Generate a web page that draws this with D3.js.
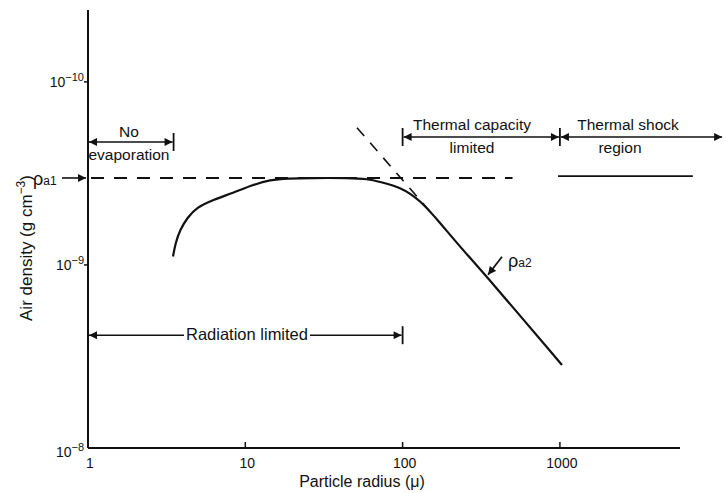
<!DOCTYPE html>
<html>
<head>
<meta charset="utf-8">
<script src="https://cdn.jsdelivr.net/npm/d3@7"></script>
<style>
  body { margin: 0; background: #fff; }
  svg text { font-family: "Liberation Sans", Arial, sans-serif; fill: #111; }
</style>
</head>
<body>
<div id="chart"></div>
<script>
const width = 726;
const height = 493;

// axis ticks
const radiusTicks = [1, 10, 100, 1000];
const densityTicks = [1e-10, 1e-9, 1e-8];

// rho_a2 curve (radius in micron, density in g cm^-3)
const curveRadius = [3.47, 3.6, 3.85, 4.3, 4.9, 6.23, 8.35, 11.2, 14.4, 18.5, 26.9, 45, 60.3, 71.8, 96.2, 129, 173, 232, 344, 1031];
const curveDensity = [9.0e-10, 7.6e-10, 6.4e-10, 5.5e-10, 4.85e-10, 4.41e-10, 4.04e-10, 3.65e-10, 3.43e-10, 3.37e-10, 3.35e-10, 3.35e-10, 3.39e-10, 3.52e-10, 3.75e-10, 4.41e-10, 5.89e-10, 7.97e-10, 1.16e-9, 3.52e-9];

// rho_a1 level
const rhoA1 = 3.35e-10;
const rhoA1Dashed = [1, 500];
const rhoA1Solid = [973, 7000];
const rhoA1SolidLevel = 3.27e-10;

// steep dashed asymptote
const asymRadius = [51.3, 152];
const asymDensity = [1.78e-10, 5.2e-10];

// regions (x extent in micron, y level in g cm^-3)
const regions = [
  { from: 1, to: 3.5, level: 2.13e-10, bar: true, lines: ["No", "evaporation"], up: 5, down: 18, cx: 129 },
  { from: 100, to: 1000, level: 2.0e-10, bar: true, barLeft: true, lines: ["Thermal capacity", "limited"], up: 7, down: 16, cx: 472 },
  { from: 1000, to: 10900, level: 2.0e-10, lines: ["Thermal shock", "region"], up: 7, down: 16, cx: 628, cx2: 620 }
];
const radiation = { from: 1, to: 100, level: 2.42e-9, label: "Radiation limited" };

const svg = d3.select('#chart').append('svg')
  .attr('width', width)
  .attr('height', height);

const defs = svg.append('defs');
defs.append('marker')
  .attr('id', 'arrow')
  .attr('viewBox', '0 0 10 10')
  .attr('refX', 10).attr('refY', 5)
  .attr('markerWidth', 9).attr('markerHeight', 8)
  .attr('markerUnits', 'userSpaceOnUse')
  .attr('orient', 'auto-start-reverse')
  .append('path')
  .attr('d', 'M0,0 L10,5 L0,10 Z')
  .attr('fill', '#111');

const x = d3.scaleLog().domain([1, 5800]).range([88, 680]);
const y = d3.scaleLog().domain([4.05e-11, 1e-8]).range([10, 448]);

// axes
svg.append('line')
  .attr('x1', x(1)).attr('x2', x(1))
  .attr('y1', y.range()[0]).attr('y2', y.range()[1])
  .attr('stroke', '#111').attr('stroke-width', 2);
svg.append('line')
  .attr('x1', x(1)).attr('x2', x.range()[1])
  .attr('y1', y(1e-8)).attr('y2', y(1e-8))
  .attr('stroke', '#111').attr('stroke-width', 2);

// x ticks
const xt = svg.append('g');
xt.selectAll('line')
  .data(radiusTicks.slice(1))
  .enter().append('line')
  .attr('x1', d => x(d)).attr('x2', d => x(d))
  .attr('y1', y(1e-8)).attr('y2', y(1e-8) - 6)
  .attr('stroke', '#111').attr('stroke-width', 1.5);
xt.selectAll('text')
  .data(radiusTicks)
  .enter().append('text')
  .attr('x', d => x(d) + 2)
  .attr('y', y(1e-8) + 20)
  .attr('text-anchor', 'middle')
  .attr('font-size', 14)
  .text(d => d);

// y ticks
const yt = svg.append('g');
yt.selectAll('line')
  .data(densityTicks.slice(0, 2))
  .enter().append('line')
  .attr('x1', x(1)).attr('x2', x(1) - 4)
  .attr('y1', d => y(d)).attr('y2', d => y(d))
  .attr('stroke', '#111').attr('stroke-width', 1.5);
const ytl = yt.selectAll('text')
  .data(densityTicks)
  .enter().append('text')
  .attr('x', x(1) - 4)
  .attr('y', (d, i) => y(d) + (i === 2 ? 9 : 5))
  .attr('text-anchor', 'end')
  .attr('font-size', 14);
ytl.append('tspan').text('10');
ytl.append('tspan')
  .attr('dy', -6)
  .attr('font-size', 11)
  .text(d => '\u2212' + Math.round(-Math.log10(d)));

// axis titles
svg.append('text')
  .attr('x', 362).attr('y', 487)
  .attr('text-anchor', 'middle')
  .attr('font-size', 16)
  .text('Particle radius (\u03bc)');

const yl = svg.append('text')
  .attr('transform', 'translate(32,248) rotate(-90)')
  .attr('text-anchor', 'middle')
  .attr('font-size', 17);
yl.append('tspan').text('Air density (g cm');
yl.append('tspan').attr('dy', -7).attr('font-size', 12).text('\u22123');
yl.append('tspan').attr('dy', 7).text(')');

// rho_a1 lines
svg.append('line')
  .attr('x1', x(rhoA1Dashed[0])).attr('x2', x(rhoA1Dashed[1]))
  .attr('y1', y(rhoA1)).attr('y2', y(rhoA1))
  .attr('stroke', '#111').attr('stroke-width', 2)
  .attr('stroke-dasharray', '13,10')
  .attr('stroke-dashoffset', -3);
svg.append('line')
  .attr('x1', x(rhoA1Solid[0])).attr('x2', x(rhoA1Solid[1]))
  .attr('y1', y(rhoA1SolidLevel)).attr('y2', y(rhoA1SolidLevel))
  .attr('stroke', '#111').attr('stroke-width', 1.8);

// steep asymptote
svg.append('line')
  .attr('x1', x(asymRadius[0])).attr('y1', y(asymDensity[0]))
  .attr('x2', x(asymRadius[1])).attr('y2', y(asymDensity[1]))
  .attr('stroke', '#111').attr('stroke-width', 1.6)
  .attr('stroke-dasharray', '11,9');

// main curve
const curvePts = curveRadius.map((r, i) => [r, curveDensity[i]]);
svg.append('path')
  .datum(curvePts)
  .attr('fill', 'none')
  .attr('stroke', '#111')
  .attr('stroke-width', 2.2)
  .attr('d', d3.line().x(d => x(d[0])).y(d => y(d[1])).curve(d3.curveBasis));

// rho_a1 label
const ra1 = svg.append('text').attr('x', 33).attr('y', y(rhoA1) + 7).attr('font-size', 18);
ra1.append('tspan').text('\u03c1');
ra1.append('tspan').attr('font-size', 12).text('a1');
svg.append('line')
  .attr('x1', 62).attr('x2', x(1) - 2)
  .attr('y1', y(rhoA1)).attr('y2', y(rhoA1))
  .attr('stroke', '#111').attr('stroke-width', 1.6)
  .attr('marker-end', 'url(#arrow)');

// rho_a2 label
const a2r = 344;
const a2d = 1.16e-9;
svg.append('line')
  .attr('x1', x(a2r) + 15).attr('y1', y(a2d) - 20)
  .attr('x2', x(a2r) + 1).attr('y2', y(a2d) - 2)
  .attr('stroke', '#111').attr('stroke-width', 1.8)
  .attr('marker-end', 'url(#arrow)');
const ra2 = svg.append('text').attr('x', x(a2r) + 21).attr('y', y(a2d) - 10).attr('font-size', 18);
ra2.append('tspan').text('\u03c1');
ra2.append('tspan').attr('font-size', 12).text('a2');

// region spans
regions.forEach(r => {
  const x1 = x(r.from), x2 = x(r.to), yy = y(r.level);
  svg.append('line')
    .attr('x1', x1 + 1).attr('x2', x2 - 1)
    .attr('y1', yy).attr('y2', yy)
    .attr('stroke', '#111').attr('stroke-width', 1.6)
    .attr('marker-start', 'url(#arrow)')
    .attr('marker-end', 'url(#arrow)');
  if (r.bar) {
    svg.append('line')
      .attr('x1', x2).attr('x2', x2)
      .attr('y1', yy - 9).attr('y2', yy + 9)
      .attr('stroke', '#111').attr('stroke-width', 1.8);
  }
  if (r.barLeft) {
    svg.append('line')
      .attr('x1', x1).attr('x2', x1)
      .attr('y1', yy - 9).attr('y2', yy + 9)
      .attr('stroke', '#111').attr('stroke-width', 1.8);
  }
  svg.append('text')
    .attr('x', r.cx).attr('y', yy - r.up)
    .attr('text-anchor', 'middle').attr('font-size', 15.5)
    .text(r.lines[0]);
  svg.append('text')
    .attr('x', r.cx2 || r.cx).attr('y', yy + r.down)
    .attr('text-anchor', 'middle').attr('font-size', 15.5)
    .text(r.lines[1]);
});

// radiation limited span
const ry = y(radiation.level);
svg.append('line')
  .attr('x1', x(radiation.from) + 1).attr('x2', x(radiation.to) - 1)
  .attr('y1', ry).attr('y2', ry)
  .attr('stroke', '#111').attr('stroke-width', 1.6)
  .attr('marker-start', 'url(#arrow)')
  .attr('marker-end', 'url(#arrow)');
svg.append('line')
  .attr('x1', x(radiation.to)).attr('x2', x(radiation.to))
  .attr('y1', ry - 9).attr('y2', ry + 9)
  .attr('stroke', '#111').attr('stroke-width', 1.8);
const radText = svg.append('text')
  .attr('x', 247).attr('y', ry + 5)
  .attr('text-anchor', 'middle').attr('font-size', 16.5)
  .text(radiation.label);
const bb = radText.node().getBBox();
svg.insert('rect', () => radText.node())
  .attr('x', bb.x - 2).attr('y', bb.y)
  .attr('width', bb.width + 4).attr('height', bb.height)
  .attr('fill', '#fff');
</script>
</body>
</html>
